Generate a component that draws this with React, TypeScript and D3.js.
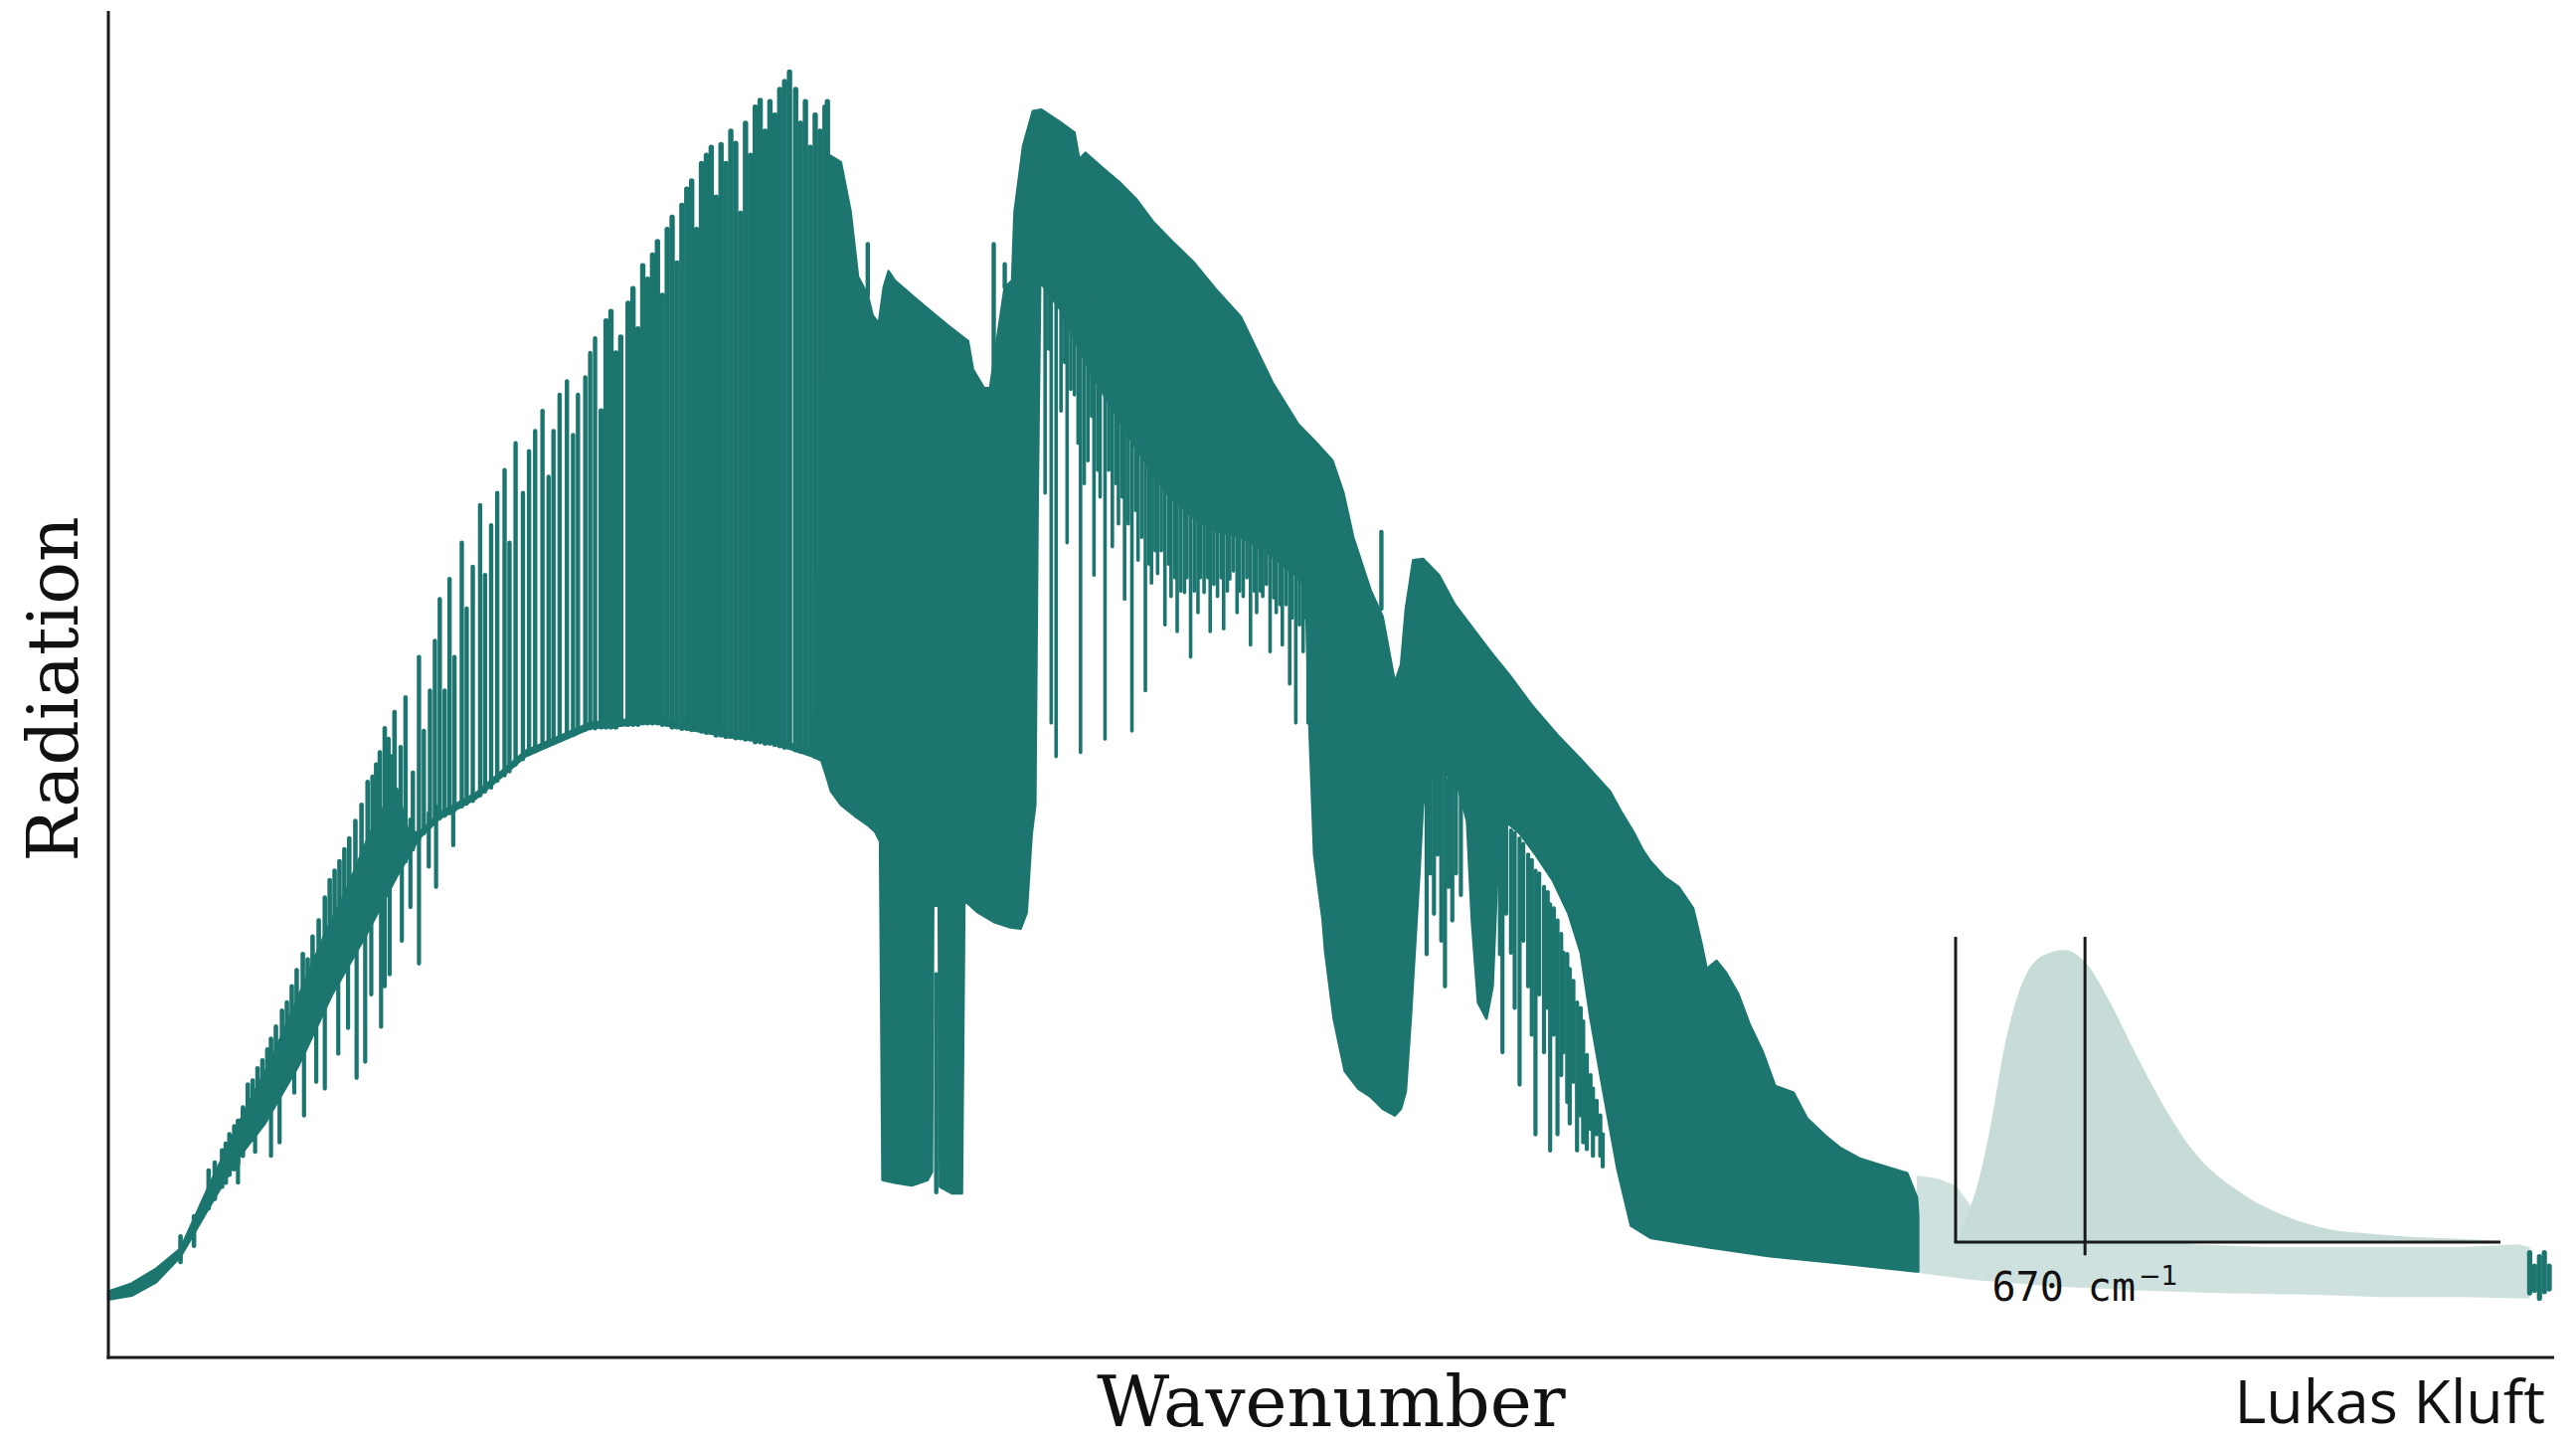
import React from "react";
import * as d3 from "d3";

const WIDTH = 2591;
const HEIGHT = 1451;

// Spectrum: wavenumber (cm^-1) and radiance (arbitrary units, 0-100)
// Upper edge of the dense (solid) part of the spectrum
const massTop: [number, number][] = [
  [0, 4.9], [19, 5.5], [39, 6.6], [59, 8.1], [82, 12.7], [114, 18.8], [133, 22.1], [159, 27.6], [177, 31.5],
  [193, 34.4], [212, 38.6], [226, 41.1], [236, 42.3], [245, 39.2], [254, 39.0], [271, 40.5], [301, 42.0],
  [341, 45.1], [394, 47.2], [446, 47.6], [504, 46.6], [543, 46.1], [576, 45.1], [583, 64.3], [590, 89.4],
  [599, 88.9], [607, 85.2], [613, 80.4], [621, 79.0], [625, 77.5], [630, 76.9], [634, 79.6], [638, 80.8],
  [643, 80.1], [657, 79.0], [670, 78.0], [686, 76.8], [703, 75.6], [707, 73.5], [716, 72.1], [721, 72.1],
  [728, 76.5], [733, 79.6], [739, 80.1], [741, 85.2], [748, 90.1], [756, 92.7], [763, 92.8], [778, 91.9],
  [790, 91.1], [794, 89.1], [799, 89.6], [814, 88.4], [827, 87.4], [841, 86.1], [854, 84.5], [870, 83.0],
  [887, 81.5], [905, 79.5], [926, 77.4], [952, 72.5], [973, 69.4], [986, 68.2], [1001, 66.7], [1010, 64.3],
  [1018, 61.0], [1032, 57.1], [1042, 55.1], [1052, 50.2], [1057, 51.5], [1061, 55.7], [1067, 59.3],
  [1075, 59.4], [1088, 58.2], [1101, 56.0], [1116, 54.2], [1131, 52.4], [1147, 50.6], [1165, 48.4],
  [1185, 46.3], [1204, 44.5], [1216, 43.3], [1228, 42.1], [1237, 40.6], [1247, 39.1], [1255, 37.7],
  [1261, 36.9], [1273, 35.7], [1284, 35.0], [1296, 33.4], [1303, 30.7], [1307, 28.9], [1315, 29.5],
  [1323, 28.6], [1333, 27.0], [1342, 24.8], [1353, 22.7], [1363, 20.2], [1378, 19.7], [1389, 17.8],
  [1404, 16.5], [1416, 15.6], [1432, 14.8], [1453, 14.2], [1471, 13.7], [1479, 11.9], [1480, 10.5],
];

// Lower edge of the dense part of the spectrum
const massBottom: [number, number][] = [
  [0, 4.3], [19, 4.6], [39, 5.6], [59, 7.5], [82, 11.1], [106, 14.8], [128, 17.4], [156, 21.8], [183, 27.0],
  [210, 31.3], [236, 35.8], [254, 38.6], [271, 40.1], [301, 41.6], [341, 44.7], [394, 46.8], [446, 47.2],
  [504, 46.2], [543, 45.7], [576, 44.7], [583, 44.4], [587, 43.3], [591, 42.1], [599, 41.1], [610, 40.3],
  [621, 39.6], [627, 39.1], [631, 38.4], [633, 13.2], [643, 13.0], [657, 12.8], [670, 13.2], [673.5, 13.8],
  [674.5, 33.6], [679, 33.6], [680, 12.7], [690, 12.2], [698, 12.2], [700, 34.0], [711, 33.1], [724, 32.4],
  [737, 32.0], [746, 31.9], [751, 33.1], [755, 38.9], [758, 41.1], [760, 64.3], [762, 80.0], [778, 78.0],
  [791, 75.5], [805, 73.0], [818, 71.0], [838, 68.0], [852, 66.0], [868, 64.0], [887, 62.5], [905, 61.5],
  [926, 61.0], [946, 60.0], [966, 58.5], [979, 57.5], [982, 47.2], [986, 37.4], [993, 32.5], [995, 30.2],
  [1002, 25.2], [1011, 21.3], [1022, 20.0], [1032, 19.4], [1042, 18.5], [1052, 18.0], [1057, 18.5],
  [1061, 19.8], [1065, 25.2], [1068, 29.8], [1072, 35.9], [1075, 41.1], [1081, 43.2], [1093, 43.5],
  [1104, 42.3], [1111, 39.9], [1115, 32.5], [1120, 26.4], [1127, 25.2], [1132, 27.6], [1136, 36.2],
  [1142, 39.9], [1154, 39.0], [1167, 37.4], [1181, 35.5], [1194, 33.0], [1204, 30.1], [1212, 25.2],
  [1222, 20.0], [1234, 14.0], [1245, 9.8], [1261, 8.9], [1307, 8.2], [1361, 7.5], [1416, 7.0], [1478, 6.4],
  [1480, 6.4],
];

// Individual lines: [wavenumber, low radiance, high radiance]
const bandTeeth: [number, number, number][] = [
  [59, 7.1, 9.0], [70, 8.3, 10.5], [82, 11.1, 13.9], [87, 11.8, 14.5], [93, 12.7, 15.4], [96, 13.0, 15.9],
  [99, 13.6, 16.6], [103, 14.0, 17.2], [106, 14.4, 17.6], [110, 15.0, 18.6], [114, 17.8, 20.3],
  [118, 16.2, 20.6], [122, 17.0, 21.5], [126, 19.1, 22.1], [130, 18.5, 22.9], [133, 20.3, 23.7],
  [137, 19.5, 24.6], [142, 21.5, 25.8], [146, 21.0, 26.4], [150, 22.7, 27.6], [154, 22.3, 28.8],
  [159, 25.2, 30.0], [163, 24.0, 29.6], [167, 26.4, 31.3], [172, 27.6, 32.5], [177, 28.9, 34.2],
  [181, 27.8, 35.5], [185, 30.7, 36.2], [189, 29.3, 36.9], [193, 32.5, 37.8], [197, 30.8, 38.6],
  [202, 34.4, 39.9], [207, 35.6, 41.1], [212, 36.8, 42.8], [216, 34.6, 43.2], [219, 38.0, 44.1],
  [222, 35.7, 45.0], [226, 39.2, 46.8], [229, 37.0, 46.0], [231, 39.9, 44.7], [234, 38.0, 48.0],
];

const bandDips: [number, number, number][] = [
  [106, 13.0, 14.8], [120, 15.3, 16.6], [133, 15.0, 19.1], [140, 16.0, 20.5], [152, 19.7, 22.7],
  [160, 18.0, 24.0], [170, 20.5, 27.0], [177, 20.0, 27.6], [188, 22.6, 28.9], [196, 24.5, 31.0],
  [203, 20.8, 31.3], [210, 22.0, 31.9], [215, 27.0, 35.0], [223, 24.6, 35.0], [226, 27.6, 35.6],
  [230, 28.5, 38.0], [240, 31.0, 39.0], [247, 33.5, 40.0], [254, 29.3, 39.2], [262, 36.5, 40.5],
  [268, 35.0, 41.0], [282, 38.1, 40.5],
];

const combTeeth: [number, number, number][] = [
  [239, 36.2, 45.4], [243, 36.9, 49.1], [249, 37.8, 43.5], [254, 38.6, 52.1], [258, 39.0, 46.6],
  [263, 39.5, 49.6], [267, 39.7, 53.3], [271, 40.1, 56.4], [275, 40.3, 49.6], [279, 40.5, 57.9],
  [283, 40.7, 52.1], [289, 41.0, 60.6], [293, 41.2, 55.7], [298, 41.4, 58.8], [304, 41.8, 63.4],
  [308, 42.1, 58.2], [313, 42.4, 61.9], [318, 42.9, 64.3], [324, 43.3, 66.0], [328, 43.6, 60.6],
  [333, 44.1, 68.0], [339, 44.5, 64.3], [344, 44.9, 67.4], [349, 45.1, 68.9], [355, 45.4, 70.4],
  [360, 45.6, 65.5], [364, 45.7, 68.9], [369, 46.0, 71.6], [375, 46.2, 72.6], [380, 46.3, 68.6],
  [384, 46.6, 71.6], [390, 46.7, 72.9], [394, 46.8, 74.7], [398, 46.8, 75.8], [403, 46.9, 70.4],
  [407, 46.9, 77.1], [411, 46.9, 77.8], [415, 46.9, 74.7], [419, 47.1, 75.9], [425, 47.1, 78.4],
  [429, 47.1, 79.5], [433, 47.1, 76.5], [437, 47.2, 81.2], [441, 47.2, 80.2], [445, 47.2, 82.0],
  [449, 47.2, 83.0], [453, 47.1, 79.0], [457, 47.1, 83.9], [461, 46.9, 84.8], [465, 46.9, 81.4],
  [469, 46.8, 85.7], [473, 46.8, 86.9], [477, 46.7, 87.5], [481, 46.7, 83.9], [485, 46.6, 88.8],
  [489, 46.5, 89.4], [493, 46.5, 90.0], [497, 46.3, 86.3], [501, 46.3, 90.2], [505, 46.2, 88.8],
  [509, 46.2, 91.2], [513, 46.1, 90.3], [517, 46.1, 85.1], [521, 46.0, 91.8], [525, 46.0, 89.4],
  [529, 45.8, 93.0], [533, 45.8, 93.5], [537, 45.7, 91.2], [541, 45.7, 93.4], [545, 45.6, 92.4],
  [549, 45.5, 94.3], [553, 45.4, 94.9], [557, 45.4, 95.6], [562, 45.2, 94.3], [566, 45.1, 91.8],
  [570, 45.0, 93.4], [574, 44.9, 90.0], [578, 44.7, 92.4], [582, 44.6, 91.2], [586, 44.0, 93.0],
  [588, 43.5, 93.4],
];

const bandTopLines: [number, number, number][] = [
  [621, 79.0, 82.8], [724, 73.5, 82.8], [733, 79.6, 81.3], [1041, 55.7, 61.4], [677, 12.3, 28.5],
];

const windowDips: [number, number, number][] = [
  [766, 64.3, 84], [769, 75.0, 84], [771, 47.2, 84], [775, 44.7, 84], [779, 70.4, 83], [782, 74.0, 82],
  [784, 60.6, 82], [787, 72.0, 81], [790, 71.6, 80], [793, 68.0, 80], [795, 45.0, 79], [798, 65.0, 79],
  [801, 66.7, 78], [804, 70.0, 78], [806, 58.2, 77], [809, 66.0, 77], [811, 64.0, 76], [815, 46.0, 76],
  [818, 66.0, 75], [821, 60.3, 74], [824, 65.0, 74], [826, 62.0, 73], [829, 64.0, 73], [831, 56.4, 72],
  [834, 62.0, 72], [837, 46.6, 71], [840, 63.0, 71], [842, 59.3, 70], [845, 61.0, 70], [848, 49.6, 69],
  [851, 59.0, 69], [853, 57.6, 68], [856, 60.0, 68], [858, 58.3, 67], [861, 60.0, 67], [864, 54.5, 66],
  [867, 59.0, 66], [869, 56.6, 66], [872, 58.0, 65], [874, 54.0, 65], [877, 57.0, 65], [880, 56.9, 64],
  [882, 58.0, 64], [885, 52.1, 64], [888, 57.0, 64], [891, 55.4, 63], [893, 58.0, 63], [896, 56.9, 63],
  [899, 58.0, 63], [901, 54.0, 63], [904, 57.5, 63], [907, 56.6, 62], [910, 58.0, 62], [912, 54.2, 62],
  [915, 57.0, 62], [917, 57.9, 62], [920, 58.5, 62], [923, 55.4, 62], [925, 57.0, 62], [928, 56.6, 61],
  [931, 58.0, 61], [934, 53.0, 61], [937, 57.0, 61], [939, 55.4, 61], [942, 57.0, 61], [944, 56.6, 60],
  [947, 57.5, 60], [950, 52.5, 60], [953, 56.5, 60], [955, 55.4, 60], [958, 56.0, 60], [960, 53.0, 59],
  [963, 56.0, 59], [966, 50.1, 59], [968, 55.0, 59], [971, 47.2, 58], [974, 54.5, 58], [977, 52.5, 58],
  [979, 55.0, 58], [981, 47.2, 58],
];

const waterDips: [number, number, number][] = [
  [1078, 30.0, 43.5], [1081, 36.0, 43.5], [1084, 33.0, 43.5], [1087, 37.4, 43.5], [1090, 31.0, 43.5],
  [1093, 27.6, 43.5], [1096, 35.0, 43.0], [1099, 32.5, 42.9], [1102, 36.0, 42.5], [1106, 34.4, 42.3],
  [1138, 30.0, 40.0], [1140, 22.7, 39.9], [1143, 33.0, 39.6], [1147, 30.1, 39.2], [1150, 26.0, 39.0],
  [1154, 20.3, 38.6], [1157, 31.0, 38.2], [1161, 27.6, 37.4], [1164, 24.0, 37.0], [1167, 16.6, 36.2],
  [1170, 27.0, 36.0], [1174, 22.7, 35.0], [1177, 26.0, 34.6], [1179, 15.4, 33.7], [1182, 24.0, 33.4],
  [1185, 16.6, 32.5], [1188, 21.0, 31.5], [1190, 22.7, 30.1], [1193, 19.0, 30.0], [1195, 17.4, 28.9],
  [1198, 20.5, 28.0], [1201, 15.4, 26.4], [1204, 18.0, 26.0], [1206, 16.0, 25.0], [1209, 15.5, 22.5],
  [1212, 17.0, 21.0], [1214, 15.0, 20.0], [1217, 16.6, 19.1], [1220, 15.0, 18.0], [1222, 14.2, 16.6],
];

// Faded (not highlighted) part of the spectrum
const fadedTop: [number, number][] = [
  [1480, 13.4], [1496, 13.2], [1510, 12.7], [1523, 11.1], [1543, 10.3], [1577, 9.8], [1617, 9.5],
  [1658, 9.0], [1706, 8.3], [1765, 8.1], [1850, 8.1], [1926, 8.1], [1971, 8.3], [1979, 8.1],
];
const fadedBottom: [number, number][] = [
  [1480, 6.4], [1523, 5.9], [1590, 5.4], [1658, 5.1], [1725, 4.9], [1792, 4.8], [1859, 4.6], [1926, 4.6],
  [1979, 4.5],
];
const endLines: [number, number, number][] = [
  [1980, 4.8, 7.8], [1984, 5.0, 6.8], [1988, 4.4, 7.5], [1992, 4.9, 7.8], [1996, 5.1, 6.8],
];

// Inset: Planck-like emission curve (relative units) against wavenumber
const planckCurve: [number, number][] = [
  [114, 0.006], [151, 0.09], [194, 0.19], [252, 0.39], [318, 0.68], [390, 0.88], [484, 0.98], [579, 1.0],
  [680, 0.95], [774, 0.83], [890, 0.65], [1006, 0.48], [1159, 0.3], [1354, 0.17], [1550, 0.09],
  [1739, 0.045], [1935, 0.028], [2131, 0.017], [2326, 0.011], [2500, 0.003],
];
const markerWavenumber = 670;

const xTitle = "Wavenumber";
const yTitle = "Radiation";
const credit = "Lukas Kluft";

const DARK = "#1c766f";
const FADED = "#cfe1de";
const INSET_FILL = "#c7dcd8";
const AXIS = "#1a1a1a";

export default function App() {
  const x = d3.scaleLinear().domain([0, 2000]).range([109, 2569]);
  const y = d3.scaleLinear().domain([0, 100]).range([1365, 13]);

  const poly = (top: [number, number][], bottom: [number, number][]) => {
    const pts: [number, number][] = top
      .map(([w, r]) => [x(w), y(r)] as [number, number])
      .concat(bottom.slice().reverse().map(([w, r]) => [x(w), y(r)] as [number, number]));
    return (d3.line()(pts) || "") + "Z";
  };

  const lineGroup = (data: [number, number, number][], width: number, key: string) => (
    <g key={key} stroke={DARK} strokeWidth={width} strokeLinecap="round">
      {data.map(([w, lo, hi], i) => (
        <line key={i} x1={x(w)} x2={x(w)} y1={y(lo)} y2={y(hi)} />
      ))}
    </g>
  );

  // inset scales
  const ix = d3.scaleLinear().domain([100, 2500]).range([1967, 2515]);
  const iy = d3.scaleLinear().domain([0, 1.045]).range([1249, 942]);
  const insetArea =
    d3
      .area<[number, number]>()
      .x((d) => ix(d[0]))
      .y0(iy(0))
      .y1((d) => iy(d[1]))
      .curve(d3.curveMonotoneX)(planckCurve) || "";

  return (
    <div style={{ position: "absolute", left: 0, top: 0, width: WIDTH, height: HEIGHT, overflow: "hidden", background: "#fff" }}>
      <svg width={WIDTH} height={HEIGHT} style={{ display: "block" }}>
        <rect x={0} y={0} width={WIDTH} height={HEIGHT} fill="#fff" />
        {/* faded part */}
        <path d={poly(fadedTop, fadedBottom)} fill={FADED} stroke={FADED} strokeWidth={3} strokeLinejoin="round" />
        {/* dense part */}
        <path d={poly(massTop, massBottom)} fill={DARK} stroke={DARK} strokeWidth={2.5} strokeLinejoin="round" />
        {lineGroup(bandTeeth, 4.6, "bt")}
        {lineGroup(bandDips, 4.2, "bd")}
        {lineGroup(combTeeth.filter((d) => d[0] < 400), 4.4, "ct1")}
        {lineGroup(combTeeth.filter((d) => d[0] >= 400), 5.4, "ct2")}
        {lineGroup(bandTopLines, 4.4, "tl")}
        {lineGroup(windowDips, 3.6, "wd")}
        {lineGroup(waterDips, 4.2, "hd")}
        {lineGroup(endLines, 5.2, "el")}

        {/* inset */}
        <path d={insetArea} fill={INSET_FILL} />
        <line x1={ix(100)} x2={ix(100)} y1={iy(1.045)} y2={iy(0)} stroke={AXIS} strokeWidth={3} />
        <line x1={ix(100) - 1.5} x2={ix(2500)} y1={iy(0)} y2={iy(0)} stroke={AXIS} strokeWidth={3} />
        <line x1={ix(markerWavenumber)} x2={ix(markerWavenumber)} y1={iy(1.045)} y2={iy(-0.045)} stroke={AXIS} strokeWidth={3} />
        <text x={ix(markerWavenumber)} y={1308} textAnchor="middle" fontFamily="DejaVu Sans Mono" fontSize={40} fill="#111">
          {`${markerWavenumber} cm`}
          <tspan fontFamily="DejaVu Sans" fontSize={27} dx={3} dy={-16}>{"\u22121"}</tspan>
        </text>

        {/* main axes */}
        <line x1={x(0)} x2={x(0)} y1={11} y2={y(0) + 1.5} stroke={AXIS} strokeWidth={3} />
        <line x1={x(0) - 1.5} x2={x(2000)} y1={y(0)} y2={y(0)} stroke={AXIS} strokeWidth={3} />

        {/* titles */}
        <text x={(x(0) + x(2000)) / 2} y={1434} textAnchor="middle" fontFamily="DejaVu Serif" fontSize={71} fill="#111">
          {xTitle}
        </text>
        <text transform="rotate(-90)" x={-693} y={78} textAnchor="middle" fontFamily="DejaVu Serif" fontSize={71} fill="#111">
          {yTitle}
        </text>
        <text x={2560} y={1431} textAnchor="end" fontFamily="Open Sans" fontSize={61} fill="#111">
          {credit}
        </text>
      </svg>
    </div>
  );
}
